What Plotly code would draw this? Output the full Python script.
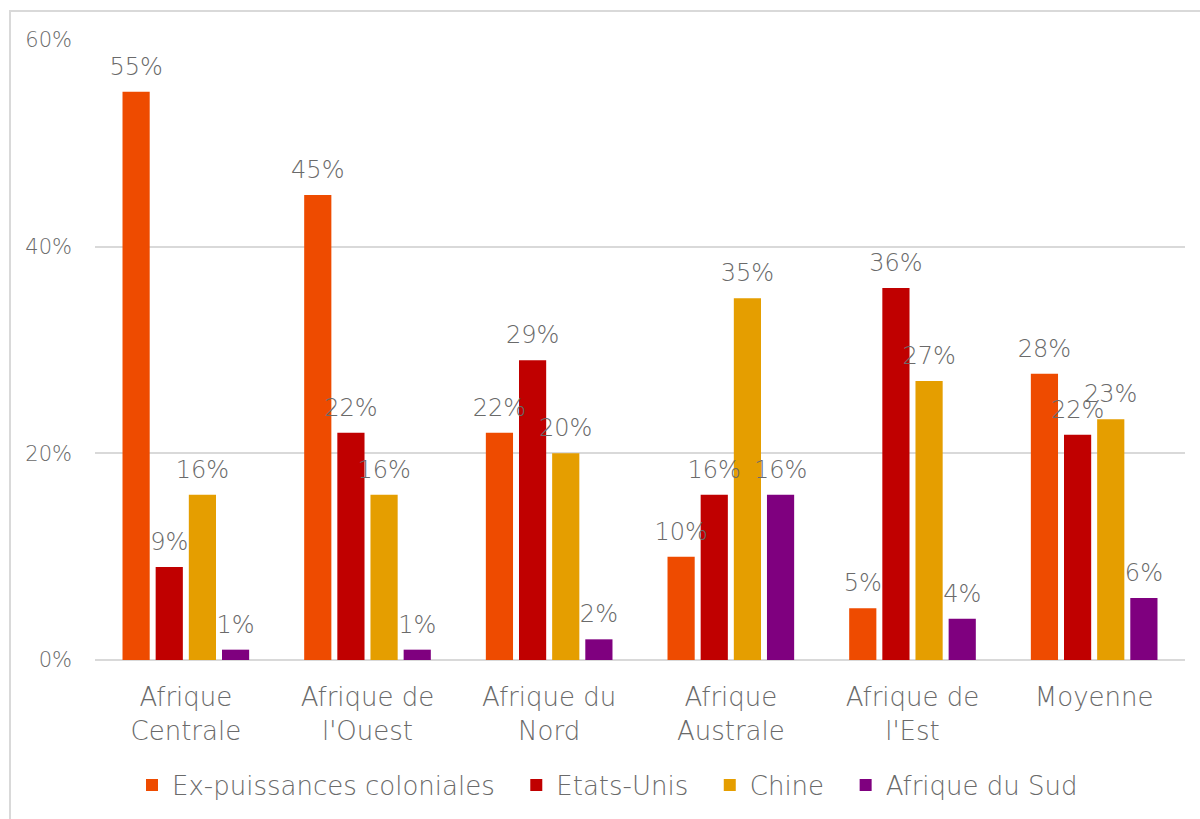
import plotly.graph_objects as go

# Regions and series shares (fractions of total)
regions = ["Afrique<br>Centrale", "Afrique de<br>l'Ouest", "Afrique du<br>Nord",
           "Afrique<br>Australe", "Afrique de<br>l'Est", "Moyenne"]
ex_coloniales = [0.55, 0.45, 0.22, 0.10, 0.05, 0.277]
etats_unis = [0.09, 0.22, 0.29, 0.16, 0.36, 0.218]
chine = [0.16, 0.16, 0.20, 0.35, 0.27, 0.233]
afrique_sud = [0.01, 0.01, 0.02, 0.16, 0.04, 0.06]

series = [
    ("Ex-puissances coloniales", ex_coloniales, "#EE4B00"),
    ("Etats-Unis", etats_unis, "#C00000"),
    ("Chine", chine, "#E59E00"),
    ("Afrique du Sud", afrique_sud, "#7F007F"),
]

FONT = "DejaVu Sans"
TEXT_COLOR = "#6A6A6A"
GRID = "#D9D9D9"

fig = go.Figure()
for name, vals, color in series:
    fig.add_trace(go.Bar(
        x=regions, y=vals, name=name + "  ",
        marker=dict(color=color, line=dict(width=0)),
        offsetgroup=name, hoverinfo="skip",
    ))

# Value labels: grouped scatter points aligned with the bars, text sits above
# an invisible marker so it floats a little over each bar top.
for name, vals, color in series:
    fig.add_trace(go.Scatter(
        x=regions, y=vals, mode="markers+text", showlegend=False,
        offsetgroup=name,
        marker=dict(size=16, opacity=0),
        text=[f"{v:.0%}" for v in vals], textposition="top center",
        textfont=dict(family=FONT, size=24, color=TEXT_COLOR, weight=200),
        cliponaxis=False, hoverinfo="skip",
    ))

W, H = 1200, 819
L, R, T, B = 95, 15, 40, 158
pw, ph = W - L - R, H - T - B

def px_x(x):
    return (x - L) / pw

def px_y(y):
    return (H - B - y) / ph

fig.update_layout(
    width=W, height=H,
    margin=dict(l=L, r=R, t=T, b=B),
    paper_bgcolor="white", plot_bgcolor="white",
    barmode="group", bargap=0.27, bargroupgap=0.18,
    scattermode="group", scattergap=0.27,
    font=dict(family=FONT, color=TEXT_COLOR, size=24, weight=200),
    showlegend=True,
    legend=dict(orientation="h", x=px_x(616), xanchor="center", y=px_y(785), yanchor="middle",
                font=dict(family=FONT, size=26, color=TEXT_COLOR, weight=200),
                itemwidth=30, traceorder="normal"),
    xaxis=dict(showgrid=False, showline=False, ticks="", ticklabelstandoff=19,
               tickfont=dict(family=FONT, size=26, color=TEXT_COLOR, weight=200)),
    yaxis=dict(range=[0, 0.6], tickvals=[0, 0.2, 0.4, 0.6], tickformat=".0%",
               showgrid=True, gridcolor=GRID, gridwidth=1.5,
               zeroline=True, zerolinecolor=GRID, zerolinewidth=2,
               showline=False, ticks="", ticklabelstandoff=22,
               tickfont=dict(family=FONT, size=21, color=TEXT_COLOR, weight=200)),
    shapes=[dict(type="rect", xref="paper", yref="paper",
                 x0=px_x(10), x1=px_x(1210), y0=px_y(830), y1=px_y(11),
                 line=dict(color=GRID, width=2), fillcolor="rgba(0,0,0,0)", layer="below")],
)

fig.write_html("out.html")
